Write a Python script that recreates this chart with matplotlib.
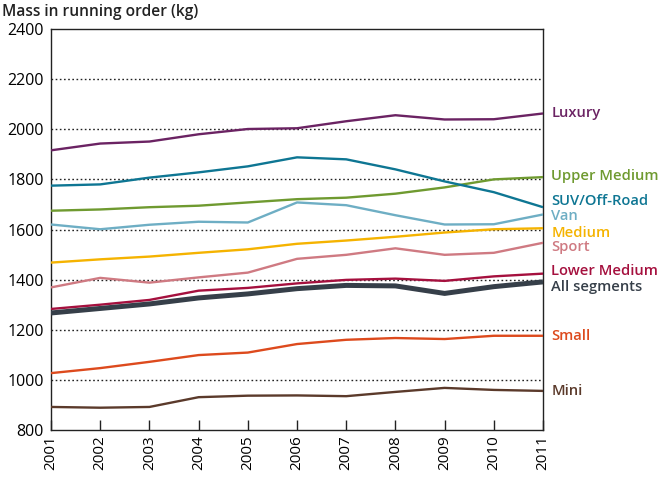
import matplotlib
matplotlib.use("Agg")
import matplotlib.pyplot as plt

years = list(range(2001, 2012))

luxury = [1916, 1943, 1951, 1980, 2001, 2004, 2032, 2056, 2039, 2040, 2063]
upper_medium = [1675, 1680, 1689, 1695, 1708, 1721, 1727, 1743, 1768, 1800, 1809]
suv = [1775, 1780, 1807, 1828, 1852, 1888, 1880, 1840, 1792, 1749, 1689]
van = [1620, 1601, 1619, 1631, 1628, 1708, 1697, 1657, 1620, 1621, 1660]
medium = [1468, 1481, 1492, 1507, 1521, 1543, 1556, 1571, 1588, 1601, 1605]
sport = [1369, 1407, 1388, 1409, 1428, 1483, 1499, 1525, 1499, 1507, 1547]
lower_medium = [1283, 1300, 1319, 1356, 1367, 1385, 1399, 1404, 1395, 1413, 1424]
all_segments = [1267, 1285, 1303, 1327, 1343, 1364, 1377, 1375, 1345, 1372, 1391]
small = [1027, 1047, 1072, 1099, 1109, 1143, 1160, 1167, 1163, 1176, 1176]
mini = [892, 889, 892, 931, 937, 938, 935, 952, 968, 960, 956]

names = ["Luxury", "Upper Medium", "SUV/Off-Road", "Van", "Medium", "Sport",
         "Lower Medium", "All segments", "Small", "Mini"]
series = [luxury, upper_medium, suv, van, medium, sport, lower_medium,
          all_segments, small, mini]
colors = ["#6b2363", "#6f9a30", "#0e7693", "#6eaec4", "#f5b300", "#cf7a82",
          "#a5103e", "#363f49", "#dd4a1d", "#5b3a2b"]
label_y = [2064, 1812, 1712, 1652, 1588, 1532, 1436, 1372, 1176, 956]

fig = plt.figure(figsize=(6.61, 4.78), dpi=100)
ax = fig.add_axes([0.0772, 0.1004, 0.7443, 0.8389])

for name, vals, c, ly in zip(names, series, colors, label_y):
    lw = 3.6 if name == "All segments" else 1.7
    ax.plot(years, vals, color=c, lw=lw, solid_capstyle="butt", zorder=3)
    ax.annotate(name, xy=(years[-1], ly), xytext=(6, 0), textcoords="offset points",
                va="center", ha="left", color=c, fontsize=10.6, fontweight="semibold",
                family="Open Sans", annotation_clip=False)

ax.set_xlim(2001, 2011)
ax.set_ylim(800, 2400)
ax.set_yticks(range(800, 2401, 200))
ax.set_xticks(years)
ax.set_xticklabels([str(y) for y in years], rotation=90, family="Open Sans", fontsize=11)
ax.set_yticklabels([str(v) for v in range(800, 2401, 200)], family="Open Sans", fontsize=11.5)
for v in range(1000, 2400, 200):
    ax.axhline(v, color="#222222", lw=1.0, ls=(0, (1.2, 1.8)), zorder=1)

ax.tick_params(axis="x", direction="in", length=7, width=1, color="#222222", pad=4)
ax.tick_params(axis="y", length=0, pad=5)
for s in ax.spines.values():
    s.set_color("#222222")
    s.set_linewidth(1.0)

fig.text(0.003, 0.975, "Mass in running order (kg)", ha="left", va="center",
         fontsize=11.2, fontweight="semibold", family="Open Sans", color="#222222")

fig.savefig("out.png", dpi=100)
